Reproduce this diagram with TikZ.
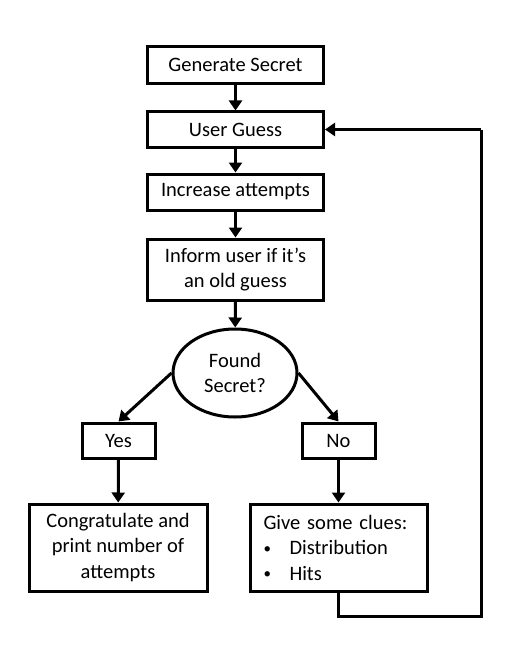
\documentclass[tikz,border=0pt]{standalone}
\usepackage{fontspec}
\setmainfont{Carlito}
\usetikzlibrary{arrows.meta,shapes.geometric}
\newcommand{\smallbul}{\makebox[26pt][l]{\raisebox{1.5pt}{\fontsize{15}{15}\selectfont •}}}
\begin{document}
\begin{tikzpicture}[x=1pt,y=-1pt,
  every node/.style={font=\fontsize{20.5}{25.5}\selectfont},
  box/.style={draw,line width=3pt,rectangle,inner sep=2pt,align=center},
  conn/.style={line width=3pt,-{Triangle[length=10pt,width=13pt]}},
  loopline/.style={line width=3pt}]
\useasboundingbox (0,0) rectangle (531,666);
\node[box,minimum width=176pt,minimum height=37pt] (gen) at (235.5,65) {Generate Secret};
\node[box,minimum width=176pt,minimum height=35pt] (ug) at (235.5,129.5) {User Guess};
\node[box,minimum width=176pt,minimum height=36pt] (inc) at (235.5,192) {Increase attempts};
\node[box,minimum width=176pt,minimum height=61pt] (inf) at (235.5,269.5) {Inform user if it’s\\an old guess};
\node[draw,line width=3pt,ellipse,minimum width=124pt,minimum height=88pt,inner sep=0pt,align=center] (ell) at (235,373) {Found\\Secret?};
\node[box,minimum width=73pt,minimum height=35pt] (yes) at (118.5,440.5) {Yes};
\node[box,minimum width=73pt,minimum height=35pt] (no) at (338.5,440.5) {No};
\node[box,minimum width=178pt,minimum height=87pt] (con) at (118,547.5) {Congratulate and\\print number of\\attempts};
\node[box,minimum width=177pt,minimum height=87pt,align=left,text width=150pt,inner xsep=0pt] (clu) at (338.5,547.5) {Give some clues:\\\smallbul Distribution\\\smallbul Hits};
\coordinate (c1) at (338.5,616);
\coordinate (c2) at (481,616);
\coordinate (c3) at (481,129.5);
\draw[conn] (gen) -- (ug);
\draw[conn] (ug) -- (inc);
\draw[conn] (inc) -- (inf);
\draw[conn] (inf) -- (ell);
\draw[conn] (ell.west) -- (yes.north);
\draw[conn] (ell.east) -- (no.north);
\draw[conn] (yes) -- (con);
\draw[conn] (no) -- (clu);
\draw[loopline] (clu.south) -- (c1) -- (c2) -- (c3);
\draw[conn] (c3) -- (ug.east);
\end{tikzpicture}
\end{document}
